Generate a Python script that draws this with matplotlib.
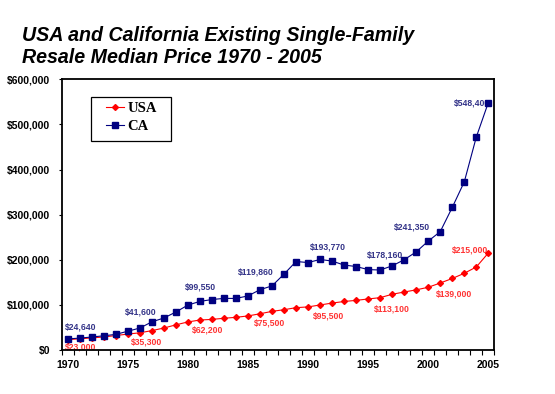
import matplotlib
matplotlib.use('Agg')
import matplotlib.pyplot as plt
import matplotlib.patches as patches
import numpy as np
from matplotlib.ticker import FuncFormatter, MultipleLocator

# -------------------------
# Data
# -------------------------
years = list(range(1970, 2006))

usa = [23000, 24800, 26700, 28900, 32000, 35300, 38100, 42900, 48700, 55700,
       62200, 66400, 67800, 70300, 72400, 75500, 80300, 85600, 89300, 93800,
       95500, 99800, 104000, 107500, 110000, 113100, 116000, 123500, 128500, 133300,
       139000, 148500, 158500, 170000, 184000, 215000]

ca = [24640, 26280, 28810, 31460, 34610, 41600, 48640, 62290, 70890, 84150,
      99550, 107710, 111800, 114370, 114260, 119860, 133640, 142060, 168200, 196120,
      193770, 200660, 197030, 188240, 185010, 178160, 177270, 186490, 200100, 217510,
      241350, 262350, 316130, 372720, 472000, 548400]

label_years = [1970, 1975, 1980, 1985, 1990, 1995, 2000, 2005]

# label offsets in points (dx, dy)
ca_offsets = [(9.6, 8.8), (9.4, 13.5), (9.4, 13.2), (5.8, 17), (14.2, 11.5),
              (12, 10.8), (-11.9, 9.9), (-11.5, 0)]
usa_offsets = [(9, -5.5), (13.5, -5.9), (14.1, -5.8), (15.4, -5.3), (14.6, -6.5),
               (17.3, -7.2), (18.9, -4.8), (-13.3, 2.2)]

navy = '#000080'
red = '#FF0000'

# -------------------------
# Figure
# -------------------------
fig = plt.figure(figsize=(5.55, 3.94), dpi=100)
ax = fig.add_axes([0.1112, 0.1117, 0.7795, 0.6871])

ax.plot(years, usa, color=red, lw=0.8, marker='D', ms=3.0, mec=red, mfc=red,
        label='USA', zorder=3)
ax.plot(years, ca, color=navy, lw=0.8, marker='s', ms=4.6, mec=navy, mfc=navy,
        label='CA', zorder=4)

ax.set_xlim(1969.5, 2005.5)
ax.set_ylim(0, 600000)

ax.xaxis.set_major_locator(MultipleLocator(5))
ax.set_xticks(np.arange(1969.5, 2006, 1), minor=True)
ax.tick_params(axis='x', which='major', length=0, pad=7)
ax.tick_params(axis='x', which='minor', direction='out', length=3.6, width=0.8)
ax.yaxis.set_major_locator(MultipleLocator(100000))
ax.yaxis.set_major_formatter(FuncFormatter(lambda v, p: f'${int(v):,}'))
ax.tick_params(axis='y', direction='out', length=2.5, width=0.8, pad=6)

for lab in ax.get_xticklabels() + ax.get_yticklabels():
    lab.set_fontfamily('Liberation Sans')
    lab.set_fontweight('bold')
    lab.set_fontsize(7.5)

for sp in ax.spines.values():
    sp.set_linewidth(1.3)

# -------------------------
# Value labels
# -------------------------
def add_labels(values, offsets, color, z):
    for yr, (dx, dy) in zip(label_years, offsets):
        v = values[years.index(yr)]
        ax.annotate(f'${v:,}', (yr, v), xytext=(dx, dy), textcoords='offset points',
                    ha='center', va='center', fontsize=6.2, fontweight='bold',
                    family='Liberation Sans', color=color, zorder=z)

add_labels(ca, ca_offsets, '#333388', 2)
add_labels(usa, usa_offsets, '#FF3333', 2)

# -------------------------
# Legend (frame drawn separately, Excel-style box)
# -------------------------
leg = fig.legend(loc='center left', bbox_to_anchor=(105.5 / 555, 1 - 117.5 / 394),
                 frameon=False, borderpad=0, handlelength=1.25,
                 handletextpad=0.25, labelspacing=0.3, borderaxespad=0,
                 prop={'family': 'Liberation Serif', 'weight': 'bold', 'size': 10.5})
fig.patches.append(patches.Rectangle((91 / 555, 1 - 140.7 / 394), 80 / 555, 44 / 394,
                                     transform=fig.transFigure, fill=False,
                                     ec='black', lw=0.9))

# -------------------------
# Title
# -------------------------
fig.text(21.7 / 555, 1 - 41 / 394, 'USA and California Existing Single-Family',
         ha='left', va='baseline', fontsize=14.1, fontweight='bold', style='italic',
         family='Liberation Sans')
fig.text(21.7 / 555, 1 - 62.7 / 394, 'Resale Median Price 1970 - 2005',
         ha='left', va='baseline', fontsize=14.1, fontweight='bold', style='italic',
         family='Liberation Sans')

plt.savefig('out.png', dpi=100)
